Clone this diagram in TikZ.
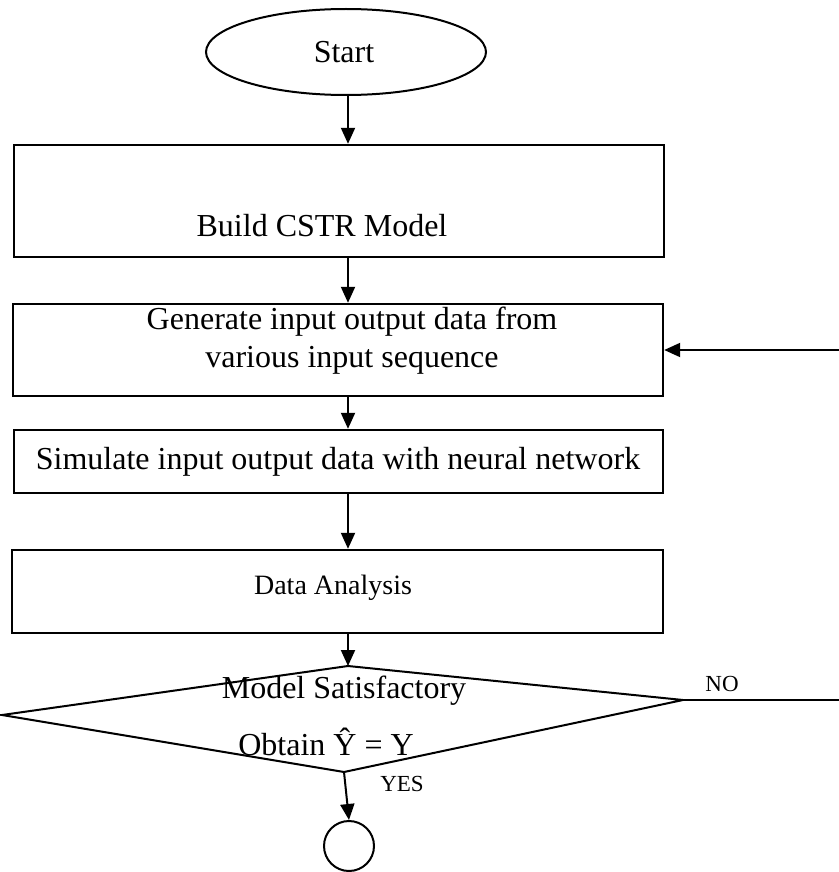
\documentclass[tikz,border=0pt]{standalone}
\usepackage{fontspec}
\setmainfont{Liberation Serif}
\usetikzlibrary{arrows.meta,shapes.geometric}
\begin{document}
\begin{tikzpicture}[x=1pt,y=-1pt,
  box/.style={draw, line width=2.4pt, rectangle, inner sep=0pt},
  arr/.style={line width=2pt, -{Triangle[length=16pt,width=14pt]}},
  ln/.style={line width=2pt},
  big/.style={font=\fontsize{32}{38}\selectfont, inner sep=0pt},
  mid/.style={font=\fontsize{28}{34}\selectfont, inner sep=0pt},
  small/.style={font=\fontsize{23}{28}\selectfont, inner sep=0pt},
]
\useasboundingbox (0,0) rectangle (838,872);
\fill[white] (0,0) rectangle (838,872);
\coordinate (ax) at (348,0);

% Start
\node[draw, ellipse, line width=2pt, minimum width=280pt, minimum height=86pt, inner sep=0pt] (start) at (346,52) {};
\node[big] (tstart) at (344,52) {Start};

% Box 1
\node[box, minimum width=650pt, minimum height=112pt] (b1) at (339,201) {};
\node[big] (t1) at (322,226) {Build CSTR Model};

% Box 2
\node[box, minimum width=650pt, minimum height=92pt] (b2) at (338,350) {};
\node[big, align=center] (t2) at (352,341) {Generate input output data from\\various input sequence};

% Box 3
\node[box, minimum width=649pt, minimum height=63pt] (b3) at (338.5,461.5) {};
\node[big] (t3) at (338,462) {Simulate input output data with neural network};

% Box 4
\node[box, minimum width=651pt, minimum height=83pt] (b4) at (337.5,591.5) {};
\node[mid] (t4) at (333,588) {Data Analysis};

% Decision
\coordinate (dT) at (348,666);
\coordinate (dL) at (2,715);
\coordinate (dR) at (683,700);
\coordinate (dB) at (344,772);
\draw[ln] (dT) -- (dR) -- (dB) -- (dL) -- cycle;
\node[big] (t5a) at (344,691) {Model Satisfactory};
\node[big] (t5b) at (326,742) {Obtain Ŷ = Y};
\node[small] (tno) at (722,684) {NO};
\node[small] (tyes) at (402,784) {YES};

% End circle
\node[draw, circle, line width=2pt, minimum size=50pt, inner sep=0pt] (end) at (349,846) {};

% Connectors
\draw[arr] (ax |- start.south) -- (ax |- b1.north);
\draw[arr] (ax |- b1.south) -- (ax |- b2.north);
\draw[arr] (ax |- b2.south) -- (ax |- b3.north);
\draw[arr] (ax |- b3.south) -- (ax |- b4.north);
\draw[arr] (ax |- b4.south) -- (dT);
\draw[arr] (dB) -- (end.north);

% Feedback (NO)
\coordinate (fb1) at (842,700);
\coordinate (fb2) at (b2.east -| fb1);
\draw[ln] (dR) -- (fb1) -- (fb2);
\draw[arr] (fb2) -- (b2.east);
\end{tikzpicture}
\end{document}
